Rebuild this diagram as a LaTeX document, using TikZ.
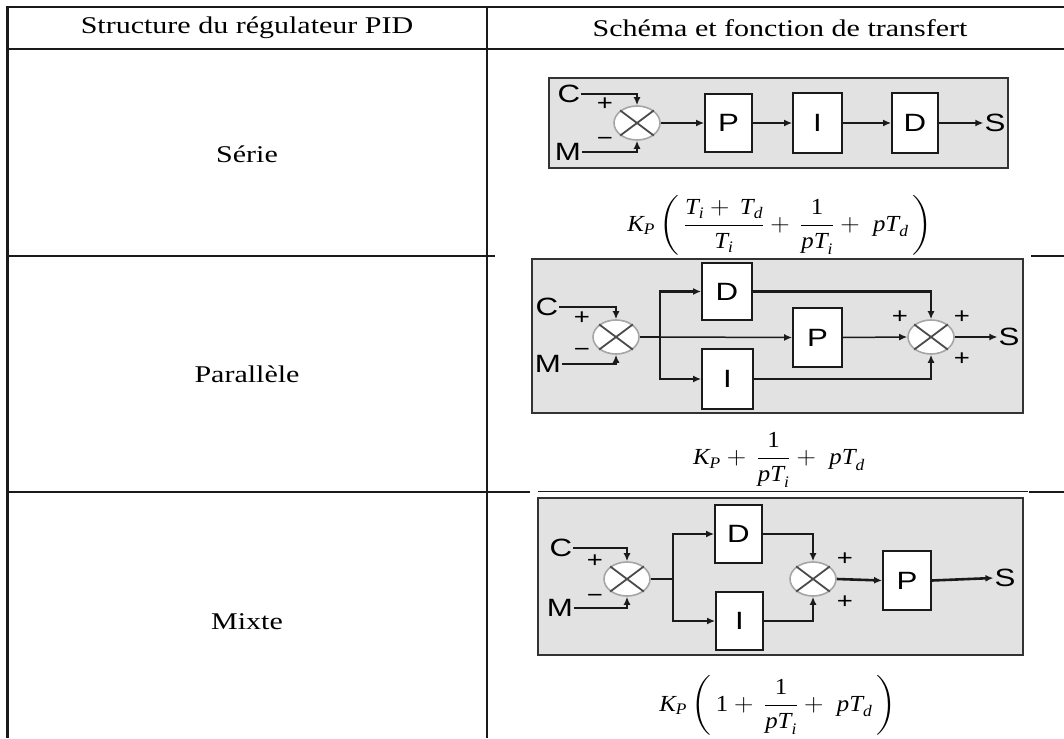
\documentclass[tikz,border=0pt]{standalone}
\usepackage{amsmath}
\usepackage{graphicx}
\usepackage{fontspec}
\setmainfont{Liberation Serif}
\setsansfont{Liberation Sans}
\usetikzlibrary{arrows.meta,shapes.geometric}
\newcommand{\sx}[1]{\scalebox{1.25}[1]{#1}}
\newcommand{\sxf}[1]{\scalebox{1.08}[1]{#1}}
\newcommand{\vi}[1]{\text{\itshape #1}}
\definecolor{panel}{HTML}{E2E2E2}
\definecolor{ink}{HTML}{1A1A1A}
\begin{document}
\begin{tikzpicture}[x=1pt,y=-1pt,
  tbl/.style={line width=2.4pt, draw=ink},
  hdr/.style={font=\fontsize{24}{28}\selectfont, inner sep=0},
  pnl/.style={fill=panel, draw=black!80, line width=2pt},
  wire/.style={line width=2.6pt, draw=ink},
  thinwire/.style={line width=1.5pt, draw=ink},
  arr/.style={-{Latex[length=8pt,width=7pt]}},
  blk/.style={draw=ink, line width=1.8pt, fill=white, inner sep=0, font=\sffamily\fontsize{25}{25}\selectfont},
  sumj/.style={ellipse, draw=black!35, line width=1.6pt, fill=white, minimum width=46pt, minimum height=34pt, inner sep=0},
  cross/.style={draw=black!70, line width=1.8pt},
  lbl/.style={font=\sffamily\fontsize{25}{25}\selectfont, inner sep=1pt},
  sgn/.style={font=\sffamily\fontsize{22}{22}\selectfont, inner sep=0},
  fml/.style={font=\fontsize{23}{27}\selectfont, inner sep=0}
]
\useasboundingbox (0,0) rectangle (1064,738);
\fill[white] (0,0) rectangle (1064,738);

% ---------- table ----------
\draw[tbl] (7,7) -- (1064,7);
\draw[tbl] (7,49) -- (1064,49);
\draw[tbl] (7,256) -- (1064,256);
\draw[tbl] (7,492) -- (1064,492);
\draw[line width=3pt, draw=ink] (7,6) -- (7,738);
\draw[line width=2.8pt, draw=ink] (487,7) -- (487,738);

\node[hdr] (h1) at (247,28) {\sx{Structure du régulateur PID}};
\node[hdr] (h2) at (780,28) {\sx{Schéma et fonction de transfert}};
\node[hdr] (r1) at (247,154) {\sx{Série}};
\node[hdr] (r2) at (247,374) {\sx{Parallèle}};
\node[hdr] (r3) at (247,622) {\sx{Mixte}};

% pasted picture margins over the separators
\fill[white] (495,248) rectangle (1031,263);
\fill[white] (530,486) rectangle (1029,498);
\draw[line width=1pt, draw=ink] (538,491) -- (1028,491);

% ---------- Serie ----------
\draw[pnl] (549,78) rectangle (1008,168);
\node[lbl] (C1) at (569,94) {\sx{C}};
\node[lbl] (M1) at (568,152) {\sx{M}};
\node[sumj] (s1) at (637,123) {};
\draw[cross] (s1.north east) -- (s1.south west) (s1.north west) -- (s1.south east);
\node[sgn] (p1a) at (605,104) {\sx{+}};
\node[sgn] (m1a) at (605,141) {\sx{−}};
\node[blk, minimum width=47pt, minimum height=58pt] (P1) at (728.5,123) {\sx{P}};
\node[blk, minimum width=49pt, minimum height=60pt] (I1) at (817.5,123) {\sx{I}};
\node[blk, minimum width=46pt, minimum height=60pt] (D1) at (915,123) {\sx{D}};
\node[lbl] (S1) at (995,123) {\sx{S}};
\draw[wire,arr] (C1.east) -| (s1.north);
\draw[wire,arr] (M1.east) -| (s1.south);
\draw[wire,arr] (s1.east) -- (P1.west);
\draw[wire,arr] (P1.east) -- (I1.west);
\draw[wire,arr] (I1.east) -- (D1.west);
\draw[wire,arr] (D1.east) -- (S1.west);

\node[fml] (f1) at (780,225) {\sxf{$\displaystyle \vi{K}_{\vi{P}}\left(\,\frac{\vi{T}_{\vi{i}}+\,\vi{T}_{\vi{d}}}{\vi{T}_{\vi{i}}}+\,\frac{\text{1}}{\vi{pT}_{\vi{i}}}+\;\vi{pT}_{\vi{d}}\,\right)$}};

% ---------- Parallele ----------
\draw[pnl] (532,259) rectangle (1023,413);
\node[lbl] (C2) at (547,307) {\sx{C}};
\node[lbl] (M2) at (548,364) {\sx{M}};
\node[sumj] (s2a) at (616,337) {};
\draw[cross] (s2a.north east) -- (s2a.south west) (s2a.north west) -- (s2a.south east);
\node[sgn] (p2a) at (582,318) {\sx{+}};
\node[sgn] (m2a) at (582,352) {\sx{−}};
\coordinate (b2) at (660,337);
\node[blk, minimum width=50pt, minimum height=57pt] (D2) at (727,291.5) {\sx{D}};
\node[blk, minimum width=51pt, minimum height=60pt] (I2) at (727.5,379) {\sx{I}};
\node[blk, minimum width=49pt, minimum height=59pt] (P2) at (817.5,337.5) {\sx{P}};
\node[sumj] (s2b) at (931,337) {};
\draw[cross] (s2b.north east) -- (s2b.south west) (s2b.north west) -- (s2b.south east);
\node[sgn] (p2b) at (900,317) {\sx{+}};
\node[sgn] (p2c) at (962,317) {\sx{+}};
\node[sgn] (p2d) at (962,359) {\sx{+}};
\node[lbl] (S2) at (1009,337) {\sx{S}};
\draw[wire,arr] (C2.east) -| (s2a.north);
\draw[wire,arr] (M2.east) -| (s2a.south);
\draw[thinwire] (s2a.east) -- (b2);
\draw[thinwire,arr] (b2) -- (P2.west);
\draw[wire,arr] (b2) |- (D2.west);
\draw[wire,arr] (b2) |- (I2.west);
\draw[wire,arr] (D2.east) -| (s2b.north);
\draw[wire,arr] (I2.east) -| (s2b.south);
\draw[thinwire,arr] (P2.east) -- (s2b.west);
\draw[thinwire,arr] (s2b.east) -- (S2.west);

\node[fml] (f2) at (779,460) {\sxf{$\displaystyle \vi{K}_{\vi{P}}+\,\frac{\text{1}}{\vi{pT}_{\vi{i}}}+\;\vi{pT}_{\vi{d}}$}};

% ---------- Mixte ----------
\draw[pnl] (538,498) rectangle (1023,655);
\node[lbl] (C3) at (561,548) {\sx{C}};
\node[lbl] (M3) at (560,608) {\sx{M}};
\node[sumj] (s3a) at (627,579) {};
\draw[cross] (s3a.north east) -- (s3a.south west) (s3a.north west) -- (s3a.south east);
\node[sgn] (p3a) at (595,561) {\sx{+}};
\node[sgn] (m3a) at (595,598) {\sx{−}};
\coordinate (b3) at (673,579);
\node[blk, minimum width=47pt, minimum height=58pt] (D3) at (738.5,534) {\sx{D}};
\node[blk, minimum width=47pt, minimum height=58pt] (I3) at (739.5,621) {\sx{I}};
\node[sumj] (s3b) at (813,579) {};
\draw[cross] (s3b.north east) -- (s3b.south west) (s3b.north west) -- (s3b.south east);
\node[sgn] (p3b) at (845,559) {\sx{+}};
\node[sgn] (p3c) at (845,602) {\sx{+}};
\node[blk, minimum width=48pt, minimum height=59pt] (P3) at (907,580.5) {\sx{P}};
\node[lbl] (S3) at (1005,578) {\sx{S}};
\draw[wire,arr] (C3.east) -| (s3a.north);
\draw[wire,arr] (M3.east) -| (s3a.south);
\draw[wire] (s3a.east) -- (b3);
\draw[wire,arr] (b3) |- (D3.west);
\draw[wire,arr] (b3) |- (I3.west);
\draw[wire,arr] (D3.east) -| (s3b.north);
\draw[wire,arr] (I3.east) -| (s3b.south);
\draw[wire,arr] (s3b.east) -- (P3.west);
\draw[wire,arr] (P3.east) -- (S3.west);

\node[fml] (f3) at (778,705) {\sxf{$\displaystyle \vi{K}_{\vi{P}}\left(\,\text{1}+\,\frac{\text{1}}{\vi{pT}_{\vi{i}}}+\;\vi{pT}_{\vi{d}}\,\right)$}};
\end{tikzpicture}
\end{document}
